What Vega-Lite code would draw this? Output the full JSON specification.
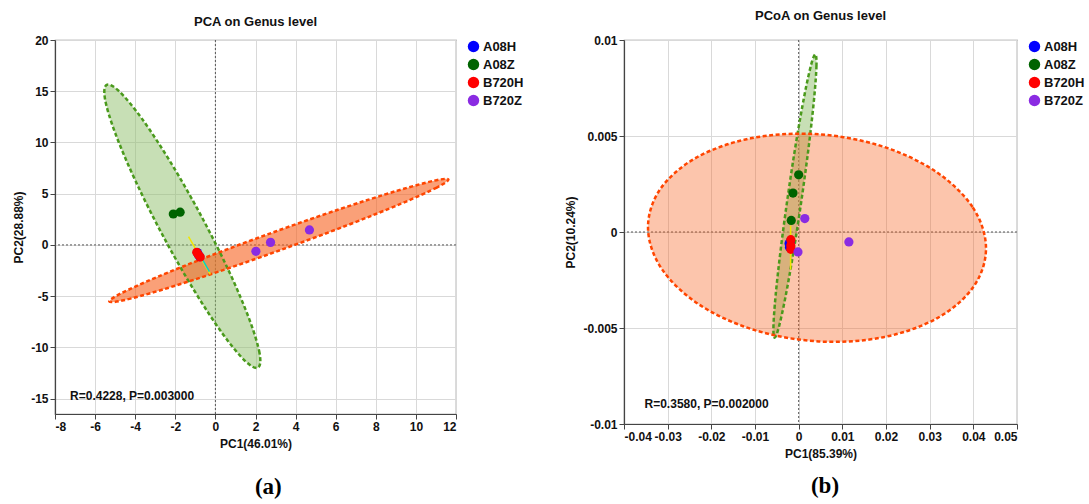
{
  "$schema": "https://vega.github.io/schema/vega-lite/v6.json",
  "background": "white",
  "padding": {"left": 12, "top": 9, "right": 2, "bottom": 2},
  "datasets": {
    "zero": [{"v": 0}],
    "pcaPts": [
      {"g": "A08H", "x": -0.9, "y": -0.75}, {"g": "A08H", "x": -0.85, "y": -0.95}, {"g": "A08H", "x": -0.78, "y": -1.15},
      {"g": "A08Z", "x": -2.1, "y": 3.02}, {"g": "A08Z", "x": -1.76, "y": 3.2},
      {"g": "B720H", "x": -0.93, "y": -0.72}, {"g": "B720H", "x": -0.85, "y": -0.95}, {"g": "B720H", "x": -0.76, "y": -1.17},
      {"g": "B720Z", "x": 2.02, "y": -0.62}, {"g": "B720Z", "x": 2.75, "y": 0.25}, {"g": "B720Z", "x": 4.69, "y": 1.46}
    ],
    "pcaEll": [
      {"g": "A08Z", "i": 0, "x": 2.125, "y": -11.98}, {"g": "A08Z", "i": 1, "x": 2.201, "y": -10.552}, {"g": "A08Z", "i": 2, "x": 1.689, "y": -7.239}, {"g": "A08Z", "i": 3, "x": 0.671, "y": -2.547},
      {"g": "A08Z", "i": 4, "x": -0.702, "y": 2.809}, {"g": "A08Z", "i": 5, "x": -2.219, "y": 8.015}, {"g": "A08Z", "i": 6, "x": -3.649, "y": 12.277}, {"g": "A08Z", "i": 7, "x": -4.775, "y": 14.948},
      {"g": "A08Z", "i": 8, "x": -5.425, "y": 15.62}, {"g": "A08Z", "i": 9, "x": -5.501, "y": 14.192}, {"g": "A08Z", "i": 10, "x": -4.989, "y": 10.879}, {"g": "A08Z", "i": 11, "x": -3.971, "y": 6.187},
      {"g": "A08Z", "i": 12, "x": -2.598, "y": 0.831}, {"g": "A08Z", "i": 13, "x": -1.081, "y": -4.375}, {"g": "A08Z", "i": 14, "x": 0.349, "y": -8.637}, {"g": "A08Z", "i": 15, "x": 1.475, "y": -11.308},
      {"g": "B720Z", "i": 0, "x": 11.62, "y": 6.39}, {"g": "B720Z", "i": 1, "x": 11.039, "y": 5.601}, {"g": "B720Z", "i": 2, "x": 9.259, "y": 4.024}, {"g": "B720Z", "i": 3, "x": 6.552, "y": 1.902},
      {"g": "B720Z", "i": 4, "x": 3.328, "y": -0.444}, {"g": "B720Z", "i": 5, "x": 0.08, "y": -2.656}, {"g": "B720Z", "i": 6, "x": -2.699, "y": -4.397}, {"g": "B720Z", "i": 7, "x": -4.585, "y": -5.403},
      {"g": "B720Z", "i": 8, "x": -5.29, "y": -5.52}, {"g": "B720Z", "i": 9, "x": -4.709, "y": -4.731}, {"g": "B720Z", "i": 10, "x": -2.929, "y": -3.154}, {"g": "B720Z", "i": 11, "x": -0.222, "y": -1.032},
      {"g": "B720Z", "i": 12, "x": 3.002, "y": 1.314}, {"g": "B720Z", "i": 13, "x": 6.25, "y": 3.526}, {"g": "B720Z", "i": 14, "x": 9.029, "y": 5.267}, {"g": "B720Z", "i": 15, "x": 10.915, "y": 6.273}
    ],
    "pcaSeg": [
      {"g": "B720H", "i": 0, "x": -1.34, "y": 0.8}, {"g": "B720H", "i": 1, "x": -0.25, "y": -2.88},
      {"g": "A08H", "i": 0, "x": -0.68, "y": -1.3}, {"g": "A08H", "i": 1, "x": -0.3, "y": -2.6}
    ],
    "pcaNote": [{"label": "R=0.4228, P=0.003000", "x": -7.25, "y": -14.7}],
    "pcoaPts": [
      {"g": "A08H", "x": -0.0022, "y": -0.0006}, {"g": "A08H", "x": -0.0021, "y": -0.0008}, {"g": "A08H", "x": -0.0019, "y": -0.0005},
      {"g": "A08Z", "x": 0.0, "y": 0.00298}, {"g": "A08Z", "x": -0.0013, "y": 0.00203}, {"g": "A08Z", "x": -0.0017, "y": 0.0006},
      {"g": "B720H", "x": -0.0018, "y": -0.0004}, {"g": "B720H", "x": -0.0018, "y": -0.0007}, {"g": "B720H", "x": -0.0018, "y": -0.0009},
      {"g": "B720Z", "x": 0.0014, "y": 0.0007}, {"g": "B720Z", "x": 0.0115, "y": -0.00052}, {"g": "B720Z", "x": -0.00016, "y": -0.00104}
    ],
    "pcoaEll": [
      {"g": "A08Z", "i": 0, "x": 0.00382, "y": 0.00925}, {"g": "A08Z", "i": 1, "x": 0.004075, "y": 0.008668}, {"g": "A08Z", "i": 2, "x": 0.003578, "y": 0.007052}, {"g": "A08Z", "i": 3, "x": 0.002409, "y": 0.004646},
      {"g": "A08Z", "i": 4, "x": 0.000743, "y": 0.001818}, {"g": "A08Z", "i": 5, "x": -0.001165, "y": -0.001002}, {"g": "A08Z", "i": 6, "x": -0.003026, "y": -0.003385}, {"g": "A08Z", "i": 7, "x": -0.004555, "y": -0.004968},
      {"g": "A08Z", "i": 8, "x": -0.00552, "y": -0.00551}, {"g": "A08Z", "i": 9, "x": -0.005775, "y": -0.004928}, {"g": "A08Z", "i": 10, "x": -0.005278, "y": -0.003312}, {"g": "A08Z", "i": 11, "x": -0.004109, "y": -0.000906},
      {"g": "A08Z", "i": 12, "x": -0.002443, "y": 0.001922}, {"g": "A08Z", "i": 13, "x": -0.000535, "y": 0.004742}, {"g": "A08Z", "i": 14, "x": 0.001326, "y": 0.007125}, {"g": "A08Z", "i": 15, "x": 0.002855, "y": 0.008708},
      {"g": "B720Z", "i": 0, "x": 0.0429, "y": -0.0008}, {"g": "B720Z", "i": 1, "x": 0.039802, "y": 0.001305}, {"g": "B720Z", "i": 2, "x": 0.031282, "y": 0.003164}, {"g": "B720Z", "i": 3, "x": 0.01864, "y": 0.004498},
      {"g": "B720Z", "i": 4, "x": 0.0038, "y": 0.0051}, {"g": "B720Z", "i": 5, "x": -0.01098, "y": 0.00488}, {"g": "B720Z", "i": 6, "x": -0.023448, "y": 0.003872}, {"g": "B720Z", "i": 7, "x": -0.031708, "y": 0.002229},
      {"g": "B720Z", "i": 8, "x": -0.0345, "y": 0.0002}, {"g": "B720Z", "i": 9, "x": -0.031402, "y": -0.001905}, {"g": "B720Z", "i": 10, "x": -0.022882, "y": -0.003764}, {"g": "B720Z", "i": 11, "x": -0.01024, "y": -0.005098},
      {"g": "B720Z", "i": 12, "x": 0.0046, "y": -0.0057}, {"g": "B720Z", "i": 13, "x": 0.01938, "y": -0.00548}, {"g": "B720Z", "i": 14, "x": 0.031848, "y": -0.004472}, {"g": "B720Z", "i": 15, "x": 0.040108, "y": -0.002829}
    ],
    "pcoaSeg": [
      {"g": "B720H", "i": 0, "x": -0.00184, "y": 0.00033}, {"g": "B720H", "i": 1, "x": -0.00184, "y": -0.00196}
    ],
    "pcoaNote": [{"label": "R=0.3580, P=0.002000", "x": -0.0353, "y": -0.00894}]
  },
  "hconcat": [
    {
      "vconcat": [
        {
          "width": 401,
          "height": 374,
          "title": {"text": "PCA on Genus level", "offset": 5},
          "layer": [
            {"data": {"name": "zero"}, "mark": {"type": "rule", "color": "#555", "strokeDash": [2, 2], "strokeWidth": 1},
             "encoding": {"x": {"field": "v", "type": "quantitative", "scale": {"domain": [-8, 12], "nice": false, "zero": false}, "axis": {"values": [-8, -6, -4, -2, 0, 2, 4, 6, 8, 10, 12], "format": "~g", "grid": true, "title": "PC1(46.01%)"}}}},
            {"data": {"name": "zero"}, "mark": {"type": "rule", "color": "#555", "strokeDash": [2, 2], "strokeWidth": 1},
             "encoding": {"y": {"field": "v", "type": "quantitative", "scale": {"domain": [-16.5, 20], "nice": false, "zero": false}, "axis": {"values": [-15, -10, -5, 0, 5, 10, 15, 20], "format": "~g", "grid": true, "title": "PC2(28.88%)"}}}},
            {"data": {"name": "pcaEll"}, "transform": [{"filter": "datum.g === 'A08Z'"}],
             "mark": {"type": "line", "interpolate": "cardinal-closed", "fill": "#8FC06B", "fillOpacity": 0.5, "strokeOpacity": 0},
             "encoding": {
               "x": {"field": "x", "type": "quantitative", "scale": {"domain": [-8, 12], "nice": false, "zero": false}, "axis": {"values": [-8, -6, -4, -2, 0, 2, 4, 6, 8, 10, 12], "format": "~g", "grid": true, "title": "PC1(46.01%)"}},
               "y": {"field": "y", "type": "quantitative", "scale": {"domain": [-16.5, 20], "nice": false, "zero": false}, "axis": {"values": [-15, -10, -5, 0, 5, 10, 15, 20], "format": "~g", "grid": true, "title": "PC2(28.88%)"}},
               "order": {"field": "i", "type": "quantitative"}}},
            {"data": {"name": "pcaEll"}, "transform": [{"filter": "datum.g === 'B720Z'"}],
             "mark": {"type": "line", "interpolate": "cardinal-closed", "fill": "#F7611E", "fillOpacity": 0.6, "strokeOpacity": 0},
             "encoding": {
               "x": {"field": "x", "type": "quantitative", "scale": {"domain": [-8, 12], "nice": false, "zero": false}, "axis": {"values": [-8, -6, -4, -2, 0, 2, 4, 6, 8, 10, 12], "format": "~g", "grid": true, "title": "PC1(46.01%)"}},
               "y": {"field": "y", "type": "quantitative", "scale": {"domain": [-16.5, 20], "nice": false, "zero": false}, "axis": {"values": [-15, -10, -5, 0, 5, 10, 15, 20], "format": "~g", "grid": true, "title": "PC2(28.88%)"}},
               "order": {"field": "i", "type": "quantitative"}}},
            {"data": {"name": "pcaEll"}, "transform": [{"filter": "datum.g === 'A08Z'"}],
             "mark": {"type": "line", "interpolate": "cardinal-closed", "stroke": "#4A9A1C", "strokeWidth": 2.5, "strokeDash": [4, 2.5]},
             "encoding": {
               "x": {"field": "x", "type": "quantitative", "scale": {"domain": [-8, 12], "nice": false, "zero": false}, "axis": {"values": [-8, -6, -4, -2, 0, 2, 4, 6, 8, 10, 12], "format": "~g", "grid": true, "title": "PC1(46.01%)"}},
               "y": {"field": "y", "type": "quantitative", "scale": {"domain": [-16.5, 20], "nice": false, "zero": false}, "axis": {"values": [-15, -10, -5, 0, 5, 10, 15, 20], "format": "~g", "grid": true, "title": "PC2(28.88%)"}},
               "order": {"field": "i", "type": "quantitative"}}},
            {"data": {"name": "pcaEll"}, "transform": [{"filter": "datum.g === 'B720Z'"}],
             "mark": {"type": "line", "interpolate": "cardinal-closed", "stroke": "#FF4500", "strokeWidth": 2.5, "strokeDash": [4, 2.5]},
             "encoding": {
               "x": {"field": "x", "type": "quantitative", "scale": {"domain": [-8, 12], "nice": false, "zero": false}, "axis": {"values": [-8, -6, -4, -2, 0, 2, 4, 6, 8, 10, 12], "format": "~g", "grid": true, "title": "PC1(46.01%)"}},
               "y": {"field": "y", "type": "quantitative", "scale": {"domain": [-16.5, 20], "nice": false, "zero": false}, "axis": {"values": [-15, -10, -5, 0, 5, 10, 15, 20], "format": "~g", "grid": true, "title": "PC2(28.88%)"}},
               "order": {"field": "i", "type": "quantitative"}}},
            {"data": {"name": "pcaSeg"}, "transform": [{"filter": "datum.g === 'B720H'"}],
             "mark": {"type": "line", "stroke": "#F2E600", "strokeWidth": 1.5},
             "encoding": {
               "x": {"field": "x", "type": "quantitative", "scale": {"domain": [-8, 12], "nice": false, "zero": false}, "axis": {"values": [-8, -6, -4, -2, 0, 2, 4, 6, 8, 10, 12], "format": "~g", "grid": true, "title": "PC1(46.01%)"}},
               "y": {"field": "y", "type": "quantitative", "scale": {"domain": [-16.5, 20], "nice": false, "zero": false}, "axis": {"values": [-15, -10, -5, 0, 5, 10, 15, 20], "format": "~g", "grid": true, "title": "PC2(28.88%)"}},
               "order": {"field": "i", "type": "quantitative"}}},
            {"data": {"name": "pcaSeg"}, "transform": [{"filter": "datum.g === 'A08H'"}],
             "mark": {"type": "line", "stroke": "#00CED1", "strokeWidth": 1.5},
             "encoding": {
               "x": {"field": "x", "type": "quantitative", "scale": {"domain": [-8, 12], "nice": false, "zero": false}, "axis": {"values": [-8, -6, -4, -2, 0, 2, 4, 6, 8, 10, 12], "format": "~g", "grid": true, "title": "PC1(46.01%)"}},
               "y": {"field": "y", "type": "quantitative", "scale": {"domain": [-16.5, 20], "nice": false, "zero": false}, "axis": {"values": [-15, -10, -5, 0, 5, 10, 15, 20], "format": "~g", "grid": true, "title": "PC2(28.88%)"}},
               "order": {"field": "i", "type": "quantitative"}}},
            {"data": {"name": "pcaPts"},
             "mark": {"type": "point", "filled": true, "size": 85, "opacity": 1, "shape": "circle"},
             "encoding": {
               "x": {"field": "x", "type": "quantitative", "scale": {"domain": [-8, 12], "nice": false, "zero": false}, "axis": {"values": [-8, -6, -4, -2, 0, 2, 4, 6, 8, 10, 12], "format": "~g", "grid": true, "title": "PC1(46.01%)"}},
               "y": {"field": "y", "type": "quantitative", "scale": {"domain": [-16.5, 20], "nice": false, "zero": false}, "axis": {"values": [-15, -10, -5, 0, 5, 10, 15, 20], "format": "~g", "grid": true, "title": "PC2(28.88%)"}},
               "color": {"field": "g", "type": "nominal", "scale": {"domain": ["A08H", "A08Z", "B720H", "B720Z"], "range": ["#0000FF", "#006400", "#FF0000", "#8A2BE2"]}, "legend": {"title": null, "orient": "right"}}}},
            {"data": {"name": "pcaNote"},
             "mark": {"type": "text", "align": "left", "baseline": "middle", "font": "Liberation Sans", "fontSize": 12, "fontWeight": "bold", "color": "#111"},
             "encoding": {
               "x": {"field": "x", "type": "quantitative", "scale": {"domain": [-8, 12], "nice": false, "zero": false}, "axis": {"values": [-8, -6, -4, -2, 0, 2, 4, 6, 8, 10, 12], "format": "~g", "grid": true, "title": "PC1(46.01%)"}},
               "y": {"field": "y", "type": "quantitative", "scale": {"domain": [-16.5, 20], "nice": false, "zero": false}, "axis": {"values": [-15, -10, -5, 0, 5, 10, 15, 20], "format": "~g", "grid": true, "title": "PC2(28.88%)"}},
               "text": {"field": "label"}}}
          ]
        }
      ],
      "title": {"text": "(a)", "orient": "bottom", "font": "Liberation Serif", "fontSize": 23, "fontWeight": "bold", "color": "#000", "offset": 26},
      "resolve": {"scale": {"color": "independent"}, "legend": {"color": "independent"}}
    },
    {
      "vconcat": [
        {
          "width": 393,
          "height": 384,
          "title": {"text": "PCoA on Genus level", "offset": 11},
          "layer": [
            {"data": {"name": "zero"}, "mark": {"type": "rule", "color": "#555", "strokeDash": [2, 2], "strokeWidth": 1},
             "encoding": {"x": {"field": "v", "type": "quantitative", "scale": {"domain": [-0.04, 0.05], "nice": false, "zero": false}, "axis": {"values": [-0.04, -0.03, -0.02, -0.01, 0, 0.01, 0.02, 0.03, 0.04, 0.05], "format": "~g", "grid": true, "title": "PC1(85.39%)"}}}},
            {"data": {"name": "zero"}, "mark": {"type": "rule", "color": "#555", "strokeDash": [2, 2], "strokeWidth": 1},
             "encoding": {"y": {"field": "v", "type": "quantitative", "scale": {"domain": [-0.01, 0.01], "nice": false, "zero": false}, "axis": {"values": [-0.01, -0.005, 0, 0.005, 0.01], "format": "~g", "grid": true, "title": "PC2(10.24%)"}}}},
            {"data": {"name": "pcoaEll"}, "transform": [{"filter": "datum.g === 'A08Z'"}],
             "mark": {"type": "line", "interpolate": "cardinal-closed", "fill": "#8FC06B", "fillOpacity": 0.5, "strokeOpacity": 0},
             "encoding": {
               "x": {"field": "x", "type": "quantitative", "scale": {"domain": [-0.04, 0.05], "nice": false, "zero": false}, "axis": {"values": [-0.04, -0.03, -0.02, -0.01, 0, 0.01, 0.02, 0.03, 0.04, 0.05], "format": "~g", "grid": true, "title": "PC1(85.39%)"}},
               "y": {"field": "y", "type": "quantitative", "scale": {"domain": [-0.01, 0.01], "nice": false, "zero": false}, "axis": {"values": [-0.01, -0.005, 0, 0.005, 0.01], "format": "~g", "grid": true, "title": "PC2(10.24%)"}},
               "order": {"field": "i", "type": "quantitative"}}},
            {"data": {"name": "pcoaEll"}, "transform": [{"filter": "datum.g === 'B720Z'"}],
             "mark": {"type": "line", "interpolate": "cardinal-closed", "fill": "#F7611E", "fillOpacity": 0.37, "strokeOpacity": 0},
             "encoding": {
               "x": {"field": "x", "type": "quantitative", "scale": {"domain": [-0.04, 0.05], "nice": false, "zero": false}, "axis": {"values": [-0.04, -0.03, -0.02, -0.01, 0, 0.01, 0.02, 0.03, 0.04, 0.05], "format": "~g", "grid": true, "title": "PC1(85.39%)"}},
               "y": {"field": "y", "type": "quantitative", "scale": {"domain": [-0.01, 0.01], "nice": false, "zero": false}, "axis": {"values": [-0.01, -0.005, 0, 0.005, 0.01], "format": "~g", "grid": true, "title": "PC2(10.24%)"}},
               "order": {"field": "i", "type": "quantitative"}}},
            {"data": {"name": "pcoaEll"}, "transform": [{"filter": "datum.g === 'A08Z'"}],
             "mark": {"type": "line", "interpolate": "cardinal-closed", "stroke": "#4A9A1C", "strokeWidth": 2.5, "strokeDash": [4, 2.5]},
             "encoding": {
               "x": {"field": "x", "type": "quantitative", "scale": {"domain": [-0.04, 0.05], "nice": false, "zero": false}, "axis": {"values": [-0.04, -0.03, -0.02, -0.01, 0, 0.01, 0.02, 0.03, 0.04, 0.05], "format": "~g", "grid": true, "title": "PC1(85.39%)"}},
               "y": {"field": "y", "type": "quantitative", "scale": {"domain": [-0.01, 0.01], "nice": false, "zero": false}, "axis": {"values": [-0.01, -0.005, 0, 0.005, 0.01], "format": "~g", "grid": true, "title": "PC2(10.24%)"}},
               "order": {"field": "i", "type": "quantitative"}}},
            {"data": {"name": "pcoaEll"}, "transform": [{"filter": "datum.g === 'B720Z'"}],
             "mark": {"type": "line", "interpolate": "cardinal-closed", "stroke": "#FF4500", "strokeWidth": 2.5, "strokeDash": [4, 2.5]},
             "encoding": {
               "x": {"field": "x", "type": "quantitative", "scale": {"domain": [-0.04, 0.05], "nice": false, "zero": false}, "axis": {"values": [-0.04, -0.03, -0.02, -0.01, 0, 0.01, 0.02, 0.03, 0.04, 0.05], "format": "~g", "grid": true, "title": "PC1(85.39%)"}},
               "y": {"field": "y", "type": "quantitative", "scale": {"domain": [-0.01, 0.01], "nice": false, "zero": false}, "axis": {"values": [-0.01, -0.005, 0, 0.005, 0.01], "format": "~g", "grid": true, "title": "PC2(10.24%)"}},
               "order": {"field": "i", "type": "quantitative"}}},
            {"data": {"name": "pcoaSeg"},
             "mark": {"type": "line", "stroke": "#F2E600", "strokeWidth": 1.5},
             "encoding": {
               "x": {"field": "x", "type": "quantitative", "scale": {"domain": [-0.04, 0.05], "nice": false, "zero": false}, "axis": {"values": [-0.04, -0.03, -0.02, -0.01, 0, 0.01, 0.02, 0.03, 0.04, 0.05], "format": "~g", "grid": true, "title": "PC1(85.39%)"}},
               "y": {"field": "y", "type": "quantitative", "scale": {"domain": [-0.01, 0.01], "nice": false, "zero": false}, "axis": {"values": [-0.01, -0.005, 0, 0.005, 0.01], "format": "~g", "grid": true, "title": "PC2(10.24%)"}},
               "order": {"field": "i", "type": "quantitative"}}},
            {"data": {"name": "pcoaPts"},
             "mark": {"type": "point", "filled": true, "size": 85, "opacity": 1, "shape": "circle"},
             "encoding": {
               "x": {"field": "x", "type": "quantitative", "scale": {"domain": [-0.04, 0.05], "nice": false, "zero": false}, "axis": {"values": [-0.04, -0.03, -0.02, -0.01, 0, 0.01, 0.02, 0.03, 0.04, 0.05], "format": "~g", "grid": true, "title": "PC1(85.39%)"}},
               "y": {"field": "y", "type": "quantitative", "scale": {"domain": [-0.01, 0.01], "nice": false, "zero": false}, "axis": {"values": [-0.01, -0.005, 0, 0.005, 0.01], "format": "~g", "grid": true, "title": "PC2(10.24%)"}},
               "color": {"field": "g", "type": "nominal", "scale": {"domain": ["A08H", "A08Z", "B720H", "B720Z"], "range": ["#0000FF", "#006400", "#FF0000", "#8A2BE2"]}, "legend": {"title": null, "orient": "right"}}}},
            {"data": {"name": "pcoaNote"},
             "mark": {"type": "text", "align": "left", "baseline": "middle", "font": "Liberation Sans", "fontSize": 12, "fontWeight": "bold", "color": "#111"},
             "encoding": {
               "x": {"field": "x", "type": "quantitative", "scale": {"domain": [-0.04, 0.05], "nice": false, "zero": false}, "axis": {"values": [-0.04, -0.03, -0.02, -0.01, 0, 0.01, 0.02, 0.03, 0.04, 0.05], "format": "~g", "grid": true, "title": "PC1(85.39%)"}},
               "y": {"field": "y", "type": "quantitative", "scale": {"domain": [-0.01, 0.01], "nice": false, "zero": false}, "axis": {"values": [-0.01, -0.005, 0, 0.005, 0.01], "format": "~g", "grid": true, "title": "PC2(10.24%)"}},
               "text": {"field": "label"}}}
          ]
        }
      ],
      "title": {"text": "(b)", "orient": "bottom", "font": "Liberation Serif", "fontSize": 23, "fontWeight": "bold", "color": "#000", "offset": 15},
      "resolve": {"scale": {"color": "independent"}, "legend": {"color": "independent"}}
    }
  ],
  "spacing": 39,
  "resolve": {"scale": {"color": "independent"}, "legend": {"color": "independent"}},
  "config": {
    "font": "Liberation Sans",
    "locale": {"number": {"decimal": ".", "thousands": ",", "grouping": [3], "currency": ["$", ""], "minus": "-"}},
    "view": {"stroke": "#888", "strokeWidth": 1.2},
    "axis": {
      "grid": true,
      "labelFont": "Liberation Sans", "labelFontSize": 12, "labelFontWeight": "bold", "labelColor": "#111",
      "titleFont": "Liberation Sans", "titleFontSize": 12, "titleFontWeight": "bold", "titleColor": "#111",
      "gridColor": "#d9d9d9", "gridWidth": 1, "gridOpacity": 1, "domainColor": "#444", "domainWidth": 1.2,
      "tickColor": "#444", "tickSize": 5, "labelPadding": 2
    },
    "axisX": {"titlePadding": 6},
    "axisY": {"titlePadding": 5},
    "title": {"font": "Liberation Sans", "fontSize": 13, "fontWeight": "bold", "color": "#111", "anchor": "middle"},
    "legend": {
      "labelFont": "Liberation Sans", "labelFontSize": 13, "labelFontWeight": "bold", "labelColor": "#111",
      "symbolType": "circle", "symbolSize": 130, "symbolStrokeWidth": 0, "rowPadding": 4, "labelOffset": 3,
      "padding": 0, "offset": 11
    }
  }
}
